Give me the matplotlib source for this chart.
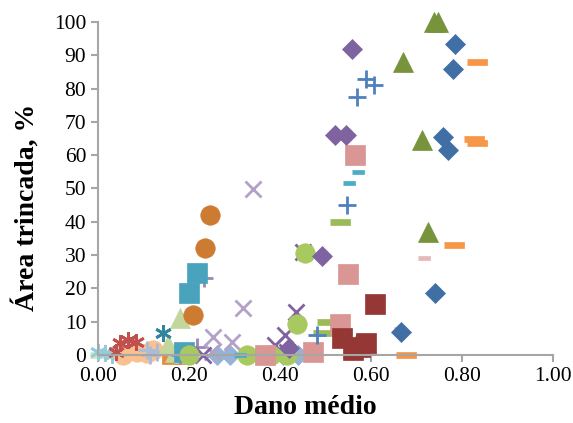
import matplotlib.pyplot as plt
import numpy as np

plt.rcParams['font.family'] = ['Liberation Serif', 'DejaVu Serif']

dash = [(-1, -0.28), (1, -0.28), (1, 0.28), (-1, 0.28)]
longdash = [(-1, -0.14), (1, -0.14), (1, 0.14), (-1, 0.14)]
star = (6, 2, 0)

# (x = dano medio, y = area trincada %), marker, colour, size
s1_x = [0.785, 0.78, 0.758, 0.77, 0.74, 0.666]
s1_y = [93.5, 86, 65.5, 61.5, 18.6, 7]
s2_x = [0.609, 0.536, 0.589, 0.561, 0.575]
s2_y = [15.3, 5, 3.6, 1.5, 2.5]
s3_x = [0.738, 0.748, 0.67, 0.712, 0.725, 0.57]
s3_y = [100, 100, 88, 64.6, 37, 3.6]
s4_x = [0.558, 0.521, 0.545, 0.492, 0.42]
s4_y = [92, 66, 66, 29.7, 2]
s5_x = [0.59, 0.607, 0.57, 0.547, 0.481]
s5_y = [83, 81, 77.5, 45, 6]
s6_x = [0.833, 0.826, 0.833, 0.782, 0.678]
s6_y = [88, 65, 63.6, 33, 0]
s7_x = [0.565, 0.549, 0.532, 0.473, 0.367]
s7_y = [60, 24.3, 9.3, 1, 0]
s8_x = [0.572, 0.552, 0.312]
s8_y = [55, 51.7, 0]
s9_x = [0.532, 0.503, 0.494]
s9_y = [40, 9.9, 6.6]
s10_x = [0.716, 0.664, 0.598, 0.367]
s10_y = [29, 7.8, 0.6, 0.6]
s11_x = [0.437, 0.415, 0.327, 0.38, 0.2]
s11_y = [9.3, 0, 0, 0, 0]
s12_x = [0.45, 0.435, 0.411, 0.39, 0.231, 0.415]
s12_y = [31, 13, 6, 3, 0, 1]
s11b_x = [0.455]
s11b_y = [30.6]
s13_x = [0.341, 0.319, 0.253, 0.294, 0.25]
s13_y = [49.8, 14, 5.4, 3.9, 1]
s14_x = [0.246, 0.235, 0.209]
s14_y = [42, 32, 12]
s15_x = [0.217, 0.2, 0.19]
s15_y = [24.6, 18.6, 1]
s16_x = [0.233, 0.217, 0.18, 0.2]
s16_y = [23, 2.4, 0, 0]
s17_x = [0.143]
s17_y = [6.6]
s18_x = [0.18, 0.154, 0.17, 0.19]
s18_y = [11, 3, 1, 0.5]
s19_x = [0.065, 0.048, 0.083, 0.04]
s19_y = [4.5, 3.6, 3.9, 1]
s20_x = [0.0, 0.015, 0.03]
s20_y = [1, 0.5, 0]
s21_x = [0.055, 0.108, 0.086, 0.12]
s21_y = [0, 0.6, 1, 1.5]
s22_x = [0.108, 0.115, 0.13]
s22_y = [1.5, 0, 1]
s23_x = [0.262, 0.406, 0.44, 0.29]
s23_y = [0, 0, 0, 0]
s24_x = [0.16, 0.19]
s24_y = [0, 0]
s25_x = [0.025, 0.06]
s25_y = [0, 0]

series = [
    (s25_x, s25_y, longdash, '#D7E4BD', 28),
    (s20_x, s20_y, star, '#93CDDD', 12),
    (s24_x, s24_y, 's', '#E68A3A', 13),
    (s21_x, s21_y, 'o', '#FAC090', 14),
    (s22_x, s22_y, '+', '#A6BDDB', 13),
    (s19_x, s19_y, star, '#C0504D', 12),
    (s18_x, s18_y, '^', '#C3D69B', 14),
    (s17_x, s17_y, star, '#31859C', 12),
    (s23_x, s23_y, 'D', '#95B3D7', 10),
    (s16_x, s16_y, '+', '#9A86B8', 13),
    (s15_x, s15_y, 's', '#4AA3BD', 14),
    (s14_x, s14_y, 'o', '#CD7B31', 14),
    (s13_x, s13_y, 'x', '#B3A2C7', 12),
    (s12_x, s12_y, 'x', '#7F63A1', 12),
    (s11_x, s11_y, 'o', '#A8C95F', 14),
    (s11b_x, s11b_y, 'o', '#A8C95F', 14),
    (s10_x, s10_y, dash, '#E6B9B8', 8),
    (s9_x, s9_y, dash, '#9BBB59', 14),
    (s8_x, s8_y, dash, '#4BACC6', 8),
    (s7_x, s7_y, 's', '#D99694', 14),
    (s6_x, s6_y, dash, '#F79646', 14),
    (s5_x, s5_y, '+', '#4F81BD', 13),
    (s4_x, s4_y, 'D', '#7F63A1', 10),
    (s3_x, s3_y, '^', '#77933C', 14),
    (s2_x, s2_y, 's', '#953735', 14),
    (s1_x, s1_y, 'D', '#3F6FA5', 10),
]

fig = plt.figure(figsize=(5.73, 4.23), dpi=100)
ax = fig.add_axes([0.171, 0.161, 0.794, 0.787])

for x, y, m, c, ms in series:
    lw = 2.0 if m in ('+', 'x') or m == star else 0.5
    ax.plot(x, y, linestyle='none', marker=m, color=c, markersize=ms,
            markeredgewidth=lw, markeredgecolor=c, clip_on=False)

ax.set_xlim(0, 1)
ax.set_ylim(0, 100)
ax.set_xticks(np.arange(0, 1.01, 0.2))
ax.set_xticklabels(['0.00', '0.20', '0.40', '0.60', '0.80', '1.00'])
ax.set_yticks(np.arange(0, 101, 10))

for s in ['top', 'right']:
    ax.spines[s].set_visible(False)
for s in ['left', 'bottom']:
    ax.spines[s].set_color('#A6A6A6')
    ax.spines[s].set_linewidth(1.5)
ax.tick_params(colors='#A6A6A6', width=1.5, length=5, labelcolor='black',
               labelsize=15.5)

fig.text(305 / 573, 1 - 407 / 423, 'Dano médio', fontsize=20,
         fontweight='bold', ha='center', va='center')
fig.text(26 / 573, 1 - 207 / 423, 'Área trincada, %', fontsize=20,
         fontweight='bold', ha='center', va='center', rotation=90)

fig.savefig('out.png', dpi=100)
